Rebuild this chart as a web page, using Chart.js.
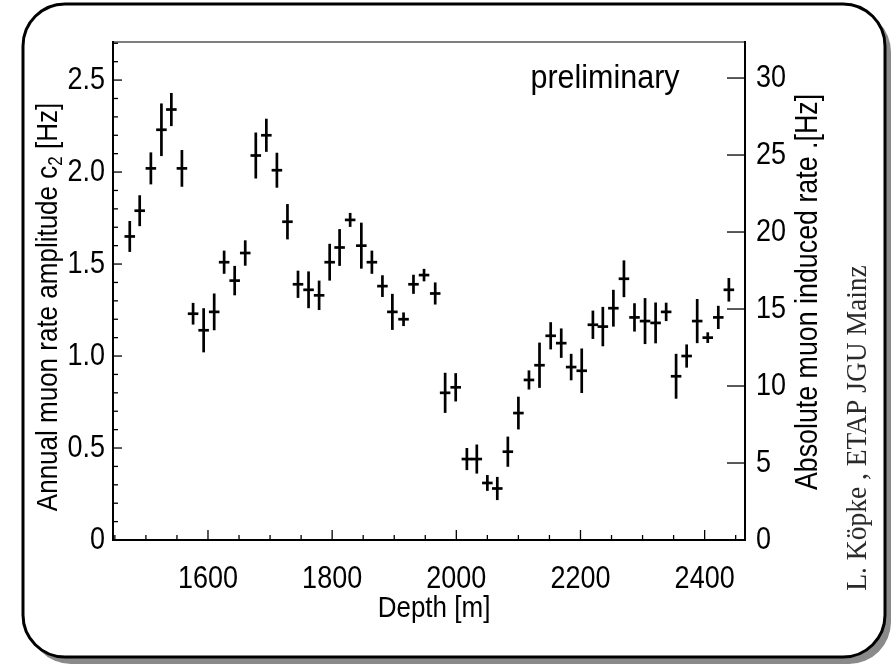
<!DOCTYPE html>
<html>
<head>
<meta charset="utf-8">
<script src="https://cdn.jsdelivr.net/npm/chart.js@4"></script>
<style>
  html, body { margin: 0; padding: 0; background: #fff; overflow: hidden; }
  canvas { display: block; }
</style>
</head>
<body>
<canvas id="c" width="891" height="664"></canvas>
<script>
// Depth of each measurement bin [m]
const depth = [1474, 1490, 1508, 1525, 1541, 1558, 1576, 1593, 1610, 1626, 1643, 1660, 1677, 1694, 1711,
  1728, 1745, 1762, 1779, 1796, 1812, 1829, 1847, 1864, 1881, 1897, 1915, 1931, 1948, 1966, 1982, 1999,
  2017, 2033, 2050, 2066, 2083, 2100, 2117, 2134, 2152, 2169, 2185, 2202, 2220, 2236, 2253, 2270, 2287,
  2304, 2321, 2338, 2354, 2371, 2388, 2405, 2422, 2439];
// Annual muon rate amplitude c2 [Hz]
const amplitude = [1.65, 1.79, 2.02, 2.23, 2.34, 2.02, 1.23, 1.14, 1.24, 1.51, 1.41, 1.56, 2.09, 2.20, 2.01,
  1.73, 1.39, 1.36, 1.33, 1.51, 1.59, 1.74, 1.60, 1.51, 1.38, 1.24, 1.20, 1.39, 1.44, 1.34, 0.80, 0.83,
  0.44, 0.44, 0.31, 0.28, 0.48, 0.69, 0.87, 0.95, 1.11, 1.07, 0.94, 0.92, 1.17, 1.16, 1.26, 1.42, 1.21,
  1.19, 1.18, 1.24, 0.89, 1.00, 1.19, 1.10, 1.21, 1.36];
// Statistical uncertainty of the amplitude [Hz]
const amplitudeErr = [0.084, 0.084, 0.087, 0.143, 0.090, 0.100, 0.059, 0.120, 0.100, 0.063, 0.080, 0.069,
  0.125, 0.090, 0.095, 0.096, 0.074, 0.100, 0.080, 0.100, 0.100, 0.038, 0.125, 0.063, 0.059, 0.098, 0.037,
  0.052, 0.034, 0.060, 0.109, 0.077, 0.060, 0.079, 0.043, 0.063, 0.082, 0.089, 0.052, 0.123, 0.074, 0.080,
  0.072, 0.121, 0.077, 0.107, 0.100, 0.100, 0.077, 0.125, 0.111, 0.050, 0.122, 0.063, 0.120, 0.029, 0.063,
  0.064];
// Half width of a depth bin [m]
const depthHalfBin = 8.5;

// Axis ranges and tick labels
const depthRange = [1447, 2465];
const depthTicks = [1600, 1800, 2000, 2200, 2400];
const depthTickLabels = ['1600', '1800', '2000', '2200', '2400'];
const ampRange = [0, 2.707];
const ampTicks = [0, 0.5, 1.0, 1.5, 2.0, 2.5];
const ampTickLabels = ['0', '0.5', '1.0', '1.5', '2.0', '2.5'];
const rateRange = [0, 32.34];
const rateTicks = [0, 5, 10, 15, 20, 25, 30];
const rateTickLabels = ['0', '5', '10', '15', '20', '25', '30'];

const SANS = 'Liberation Sans, Arial, Helvetica, sans-serif';
const SERIF = 'Liberation Serif, Times New Roman, serif';
// the lettering is slightly taller than regular Helvetica
const STRETCH = 1.15;

// Rounded slide frame with a grey drop shadow
const slideFrame = {
  id: 'slideFrame',
  beforeDraw(chart) {
    const ctx = chart.ctx;
    ctx.save();
    ctx.fillStyle = '#8a8a8a';
    ctx.beginPath();
    ctx.roundRect(29, 10, 862, 654, 42);
    ctx.fill();
    ctx.fillStyle = '#fff';
    ctx.beginPath();
    ctx.roundRect(23, 4, 862, 653, 42);
    ctx.fill();
    ctx.lineWidth = 3;
    ctx.strokeStyle = '#000';
    ctx.stroke();
    ctx.restore();
  }
};

// Vertical and horizontal error bars of the amplitude
const errorBars = {
  id: 'errorBars',
  afterDatasetsDraw(chart) {
    const {ctx, scales: {x, y}} = chart;
    ctx.save();
    ctx.strokeStyle = '#000';
    ctx.lineWidth = 2.7;
    ctx.lineCap = 'butt';
    depth.forEach((d, i) => {
      const px = x.getPixelForValue(d);
      ctx.beginPath();
      ctx.moveTo(px, y.getPixelForValue(amplitude[i] - amplitudeErr[i]));
      ctx.lineTo(px, y.getPixelForValue(amplitude[i] + amplitudeErr[i]));
      ctx.stroke();
      ctx.beginPath();
      ctx.moveTo(x.getPixelForValue(d - depthHalfBin), y.getPixelForValue(amplitude[i]));
      ctx.lineTo(x.getPixelForValue(d + depthHalfBin), y.getPixelForValue(amplitude[i]));
      ctx.stroke();
    });
    ctx.restore();
  }
};

// Axis box with inward major/minor tick marks
const axisBox = {
  id: 'axisBox',
  afterDraw(chart) {
    const {ctx, chartArea: a, scales: {x, y, y2}} = chart;
    ctx.save();
    ctx.strokeStyle = '#000';
    ctx.lineCap = 'square';
    const line = (x1, y1, x2, y2_, w) => {
      ctx.lineWidth = w;
      ctx.beginPath(); ctx.moveTo(x1, y1); ctx.lineTo(x2, y2_); ctx.stroke();
    };
    line(a.left, a.top, a.right, a.top, 1.2);
    line(a.left, a.top, a.left, a.bottom, 2);
    line(a.left, a.bottom, a.right, a.bottom, 2);
    line(a.right, a.top, a.right, a.bottom, 2);
    ctx.lineCap = 'butt';
    // amplitude axis: minor every 0.1, major every 0.5
    for (let k = 0; k <= 27; k++) {
      const py = y.getPixelForValue(k / 10);
      line(a.left, py, a.left + (k % 5 === 0 ? 9 : 5), py, 1.3);
    }
    // depth axis: minor every 50 m, major every 200 m
    for (let d = 1450; d <= 2450; d += 50) {
      const px = x.getPixelForValue(d);
      line(px, a.bottom, px, a.bottom - (d % 200 === 0 ? 10 : 5), 1.3);
    }
    // rate axis ticks pointing into the plot
    rateTicks.forEach(v => {
      const py = y2.getPixelForValue(v);
      line(a.right - 18, py, a.right, py, 1.3);
    });
    ctx.restore();
  }
};

// text helper: rotation plus a little vertical stretch of the glyphs
function label(ctx, text, x, y, font, align, rot, sy) {
  ctx.save();
  ctx.translate(x, y);
  if (rot) ctx.rotate(rot);
  ctx.scale(1, sy);
  ctx.font = font;
  ctx.textAlign = align;
  ctx.textBaseline = 'middle';
  ctx.fillText(text, 0, 0);
  ctx.restore();
}

// Tick labels, axis titles and annotations
const annotations = {
  id: 'annotations',
  afterDraw(chart) {
    const {ctx, chartArea: a, scales: {x, y, y2}} = chart;
    ctx.save();
    ctx.fillStyle = '#000';
    const tickFont = '27px ' + SANS;

    depthTicks.forEach((v, i) =>
      label(ctx, depthTickLabels[i], x.getPixelForValue(v), 579, tickFont, 'center', 0, STRETCH));
    ampTicks.forEach((v, i) =>
      label(ctx, ampTickLabels[i], a.left - 8, y.getPixelForValue(v), tickFont, 'right', 0, STRETCH));
    rateTicks.forEach((v, i) =>
      label(ctx, rateTickLabels[i], a.right + 11, y2.getPixelForValue(v), tickFont, 'left', 0, STRETCH));

    label(ctx, 'Depth [m]', 434, 609, '26px ' + SANS, 'center', 0, STRETCH);
    label(ctx, 'preliminary', 605, 79, '30.5px ' + SANS, 'center', 0, 1.1);

    // left title with subscript
    ctx.save();
    ctx.translate(49, 307);
    ctx.rotate(-Math.PI / 2);
    ctx.scale(1, STRETCH);
    ctx.textAlign = 'left';
    ctx.textBaseline = 'middle';
    const main = 'Annual muon rate amplitude c';
    const tail = ' [Hz]';
    ctx.font = '26px ' + SANS;
    const wMain = ctx.measureText(main).width;
    const wTail = ctx.measureText(tail).width;
    ctx.font = '17px ' + SANS;
    const wSub = ctx.measureText('2').width;
    let cx = -(wMain + wSub + wTail) / 2;
    ctx.font = '26px ' + SANS;
    ctx.fillText(main, cx, 0);
    cx += wMain;
    ctx.font = '17px ' + SANS;
    ctx.fillText('2', cx, 7);
    cx += wSub;
    ctx.font = '26px ' + SANS;
    ctx.fillText(tail, cx, 0);
    ctx.restore();

    label(ctx, 'Absolute muon induced rate .[Hz]', 808, 292, '26.8px ' + SANS, 'center', -Math.PI / 2, STRETCH);

    ctx.fillStyle = '#2a2a2a';
    label(ctx, 'L. Köpke , ETAP JGU Mainz', 858, 428, '27.5px ' + SERIF, 'center', -Math.PI / 2, 1.05);

    ctx.restore();
  }
};

new Chart(document.getElementById('c'), {
  type: 'scatter',
  data: {
    datasets: [{
      data: depth.map((d, i) => ({ x: d, y: amplitude[i] })),
      pointRadius: 0,
      pointHoverRadius: 0,
      showLine: false
    }]
  },
  options: {
    responsive: false,
    animation: false,
    devicePixelRatio: 1,
    events: [],
    layout: { padding: { left: 20, top: 42, right: 6, bottom: 6 } },
    plugins: { legend: { display: false }, tooltip: { enabled: false } },
    scales: {
      x: {
        type: 'linear', position: 'bottom',
        min: depthRange[0], max: depthRange[1],
        grid: { display: false, drawTicks: false },
        border: { display: false },
        afterBuildTicks: s => { s.ticks = depthTicks.map(v => ({ value: v })); },
        afterFit: s => { s.height = 118; },
        ticks: { display: false }
      },
      y: {
        type: 'linear', position: 'left',
        min: ampRange[0], max: ampRange[1],
        grid: { display: false, drawTicks: false },
        border: { display: false },
        afterBuildTicks: s => { s.ticks = ampTicks.map(v => ({ value: v })); },
        afterFit: s => { s.width = 93; },
        ticks: { display: false }
      },
      y2: {
        type: 'linear', position: 'right',
        min: rateRange[0], max: rateRange[1],
        grid: { display: false, drawTicks: false },
        border: { display: false },
        afterBuildTicks: s => { s.ticks = rateTicks.map(v => ({ value: v })); },
        afterFit: s => { s.width = 140; },
        ticks: { display: false }
      }
    }
  },
  plugins: [slideFrame, errorBars, axisBox, annotations]
});
</script>
</body>
</html>
